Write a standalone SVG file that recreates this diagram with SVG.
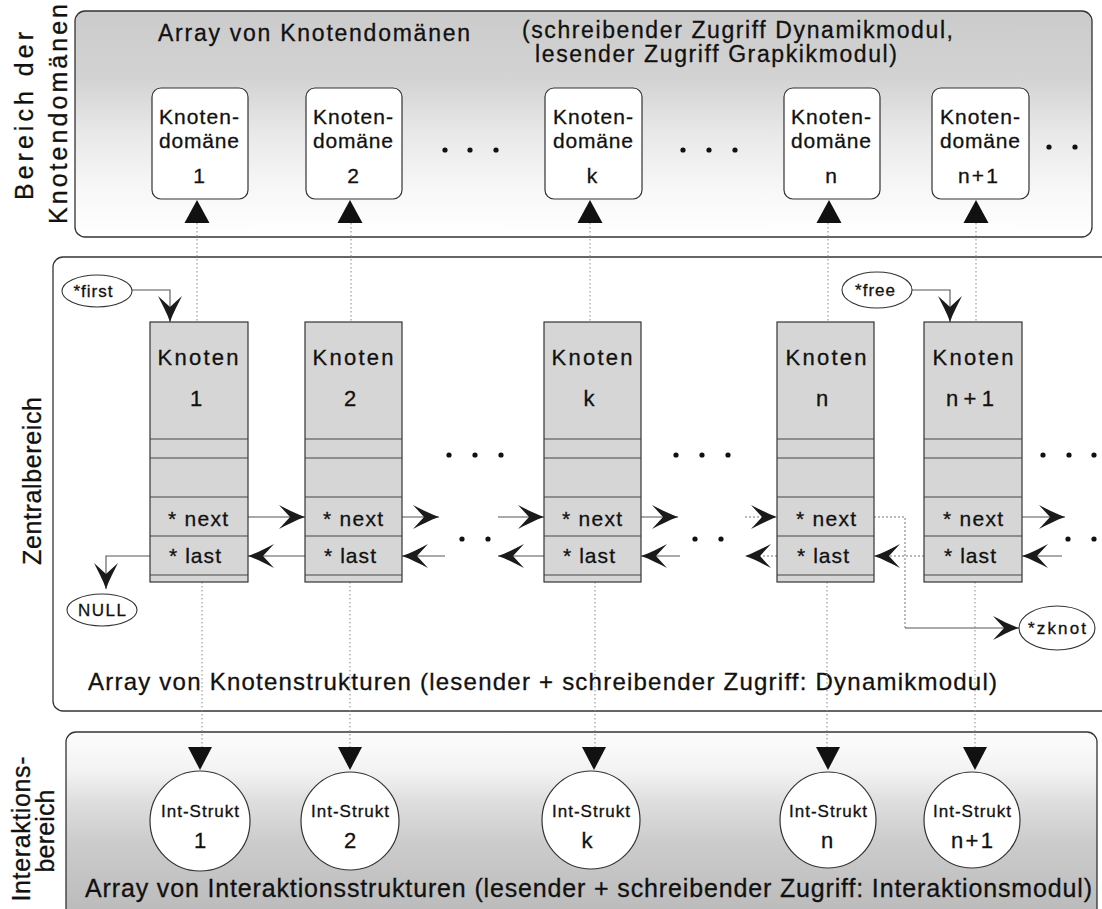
<svg xmlns="http://www.w3.org/2000/svg" width="1102" height="909" viewBox="0 0 1102 909">
  <style>
    text { font-family: "Liberation Sans", Arial, Helvetica, sans-serif; fill: #111; stroke: #111; stroke-width: 0.3; }
    .panel { stroke: #333; stroke-width: 1.3; }
    .dom { fill: #fff; stroke: #333; stroke-width: 1.2; }
    .knot { fill: #d6d6d6; stroke: #333; stroke-width: 1.2; }
    .row { stroke: #444; stroke-width: 1; }
    .ell { fill: #fff; stroke: #333; stroke-width: 1.1; }
    .circ { fill: #fff; stroke: #333; stroke-width: 1.2; }
    .link { fill: none; stroke: #555; stroke-width: 1.1; }
    .dlink { fill: none; stroke: #777; stroke-width: 1; stroke-dasharray: 2 2; }
    .guide { fill: none; stroke: #888; stroke-width: 1; stroke-dasharray: 1.5 2.5; }
    .tri { fill: #111; }
    .dot { fill: #111; }
    .lab { font-size: 25px; text-anchor: middle; }
    .title { font-size: 23px; }
    .dtxt { font-size: 21px; text-anchor: middle; }
    .ktxt { font-size: 22px; text-anchor: middle; }
    .ptr { font-size: 21px; text-anchor: middle; }
    .itxt { font-size: 17px; text-anchor: middle; }
    .inum { font-size: 22px; text-anchor: middle; }
    .etxt { font-size: 17px; text-anchor: middle; }
  </style>
  <defs>
    <linearGradient id="topFade" x1="0" y1="0" x2="0" y2="1">
      <stop offset="0" stop-color="#cbcbcb"/>
      <stop offset="0.3" stop-color="#d3d3d3"/>
      <stop offset="0.55" stop-color="#e9e9e9"/>
      <stop offset="0.8" stop-color="#f8f8f8"/>
      <stop offset="1" stop-color="#ffffff"/>
    </linearGradient>
    <linearGradient id="botFade" x1="0" y1="0" x2="0" y2="1">
      <stop offset="0" stop-color="#fdfdfd"/>
      <stop offset="0.2" stop-color="#f2f2f2"/>
      <stop offset="0.35" stop-color="#dedede"/>
      <stop offset="0.55" stop-color="#cccccc"/>
      <stop offset="1" stop-color="#b6b6b6"/>
    </linearGradient>
    <marker id="chev" viewBox="-27 -13 28 26" refX="0" refY="0" markerWidth="28" markerHeight="26" markerUnits="userSpaceOnUse" orient="auto">
      <path d="M0,0 C-9,-3 -18,-8 -26,-12 L-15,0 L-26,12 C-18,8 -9,3 0,0 Z" fill="#1a1a1a"/>
    </marker>
  </defs>

  <rect width="1102" height="909" fill="#fff"/>

  <!-- Area panels -->
  <g id="panels">
    <rect class="panel" x="75" y="11" width="1017" height="226" rx="10" fill="url(#topFade)"/>
    <rect class="panel" x="53" y="257" width="1080" height="454" rx="10" fill="#fff"/>
    <rect class="panel" x="66" y="732" width="1031" height="200" rx="10" fill="url(#botFade)"/>
  </g>

  <!-- Area labels -->
  <g id="labels">
    <text class="lab" transform="translate(33,116) rotate(-90)" textLength="168" lengthAdjust="spacing">Bereich der</text>
    <text class="lab" transform="translate(67,114) rotate(-90)" textLength="220" lengthAdjust="spacing">Knotendomänen</text>
    <text class="lab" transform="translate(41,481) rotate(-90)" textLength="168" lengthAdjust="spacing">Zentralbereich</text>
    <text class="lab" transform="translate(30,829) rotate(-90)" textLength="145" lengthAdjust="spacing">Interaktions-</text>
    <text class="lab" transform="translate(54,831) rotate(-90)" textLength="83" lengthAdjust="spacing">bereich</text>
    <text class="title" x="158" y="41" textLength="312" lengthAdjust="spacing">Array von Knotendomänen</text>
    <text class="title" x="522" y="38" textLength="431" lengthAdjust="spacing">(schreibender Zugriff Dynamikmodul,</text>
    <text class="title" x="535" y="62" textLength="362" lengthAdjust="spacing">lesender Zugriff Grapkikmodul)</text>
    <text x="88" y="690" font-size="24" textLength="909" lengthAdjust="spacing">Array von Knotenstrukturen (lesender + schreibender Zugriff: Dynamikmodul)</text>
    <text x="85" y="897" font-size="25" textLength="1007" lengthAdjust="spacing">Array von Interaktionsstrukturen (lesender + schreibender Zugriff: Interaktionsmodul)</text>
  </g>

  <!-- Ellipsis dots -->
  <g id="ellipses-dots">
    <circle class="dot" cx="445" cy="150" r="2.6"/><circle class="dot" cx="470" cy="150" r="2.6"/><circle class="dot" cx="496" cy="150" r="2.6"/>
    <circle class="dot" cx="683" cy="150" r="2.6"/><circle class="dot" cx="709" cy="150" r="2.6"/><circle class="dot" cx="735" cy="150" r="2.6"/>
    <circle class="dot" cx="1049" cy="147" r="2.6"/><circle class="dot" cx="1075" cy="147" r="2.6"/>
    <circle class="dot" cx="449" cy="455" r="2.6"/><circle class="dot" cx="475" cy="455" r="2.6"/><circle class="dot" cx="501" cy="455" r="2.6"/>
    <circle class="dot" cx="676" cy="455" r="2.6"/><circle class="dot" cx="702" cy="455" r="2.6"/><circle class="dot" cx="728" cy="455" r="2.6"/>
    <circle class="dot" cx="1043" cy="455" r="2.6"/><circle class="dot" cx="1069" cy="455" r="2.6"/><circle class="dot" cx="1094" cy="455" r="2.6"/>
    <circle class="dot" cx="462" cy="539" r="2.6"/><circle class="dot" cx="488" cy="539" r="2.6"/>
    <circle class="dot" cx="695" cy="539" r="2.6"/><circle class="dot" cx="721" cy="539" r="2.6"/>
    <circle class="dot" cx="1068" cy="539" r="2.6"/><circle class="dot" cx="1094" cy="539" r="2.6"/>
  </g>

  <!-- Connectors -->
  <g id="connectors">
    <path class="guide" d="M197,223 V322 M202,582 V747"/>
    <path class="guide" d="M351,223 V322 M350,582 V747"/>
    <path class="guide" d="M590,223 V322 M595,582 V747"/>
    <path class="guide" d="M828,223 V322 M827,582 V747"/>
    <path class="guide" d="M976,223 V322 M975,582 V747"/>
    <polygon class="tri" points="197,200 184.5,223 209.5,223"/>
    <polygon class="tri" points="350,200 337.5,223 362.5,223"/>
    <polygon class="tri" points="590,200 577.5,223 602.5,223"/>
    <polygon class="tri" points="829,200 816.5,223 841.5,223"/>
    <polygon class="tri" points="976,200 963.5,223 988.5,223"/>
    <polygon class="tri" points="200,770 188,747 212,747"/>
    <polygon class="tri" points="350,770 338,747 362,747"/>
    <polygon class="tri" points="594,770 582,747 606,747"/>
    <polygon class="tri" points="828,770 816,747 840,747"/>
    <polygon class="tri" points="975,770 963,747 987,747"/>
    <path class="link" d="M132,290 H170 V322" marker-end="url(#chev)"/>
    <path class="link" d="M912,290 H950 V322" marker-end="url(#chev)"/>
    <path class="link" d="M150,556 H106 V589" marker-end="url(#chev)"/>
    <path class="link" d="M248,517 H305" marker-end="url(#chev)"/>
    <path class="link" d="M305,556 H248" marker-end="url(#chev)"/>
    <path class="link" d="M402,517 H439" marker-end="url(#chev)"/>
    <path class="link" d="M498,517 H544" marker-end="url(#chev)"/>
    <path class="link" d="M544,556 H498" marker-end="url(#chev)"/>
    <path class="link" d="M445,556 H402" marker-end="url(#chev)"/>
    <path class="link" d="M641,517 H678" marker-end="url(#chev)"/>
    <path class="dlink" d="M745,517 H777" marker-end="url(#chev)"/>
    <path class="dlink" d="M777,556 H745" marker-end="url(#chev)"/>
    <path class="link" d="M680,556 H641" marker-end="url(#chev)"/>
    <path class="dlink" d="M924,556 H874" marker-end="url(#chev)"/>
    <path class="dlink" d="M874,517 H905 V628"/>
    <path class="link" d="M905,628 H1019" marker-end="url(#chev)"/>
    <path class="link" d="M1022,517 H1065" marker-end="url(#chev)"/>
    <path class="link" d="M1062,556 H1022" marker-end="url(#chev)"/>
  </g>

  <!-- Node domains -->
  <g id="domain-1">
    <rect class="dom" x="152" y="88" width="96" height="111" rx="9"/>
    <text class="dtxt" x="199" y="124" textLength="80" lengthAdjust="spacing">Knoten-</text>
    <text class="dtxt" x="199" y="148" textLength="80" lengthAdjust="spacing">domäne</text>
    <text class="dtxt" x="199" y="183">1</text>
  </g>
  <g id="domain-2">
    <rect class="dom" x="306" y="88" width="96" height="111" rx="9"/>
    <text class="dtxt" x="353" y="124" textLength="80" lengthAdjust="spacing">Knoten-</text>
    <text class="dtxt" x="353" y="148" textLength="80" lengthAdjust="spacing">domäne</text>
    <text class="dtxt" x="353" y="183">2</text>
  </g>
  <g id="domain-k">
    <rect class="dom" x="545" y="88" width="97" height="111" rx="9"/>
    <text class="dtxt" x="593" y="124" textLength="80" lengthAdjust="spacing">Knoten-</text>
    <text class="dtxt" x="593" y="148" textLength="80" lengthAdjust="spacing">domäne</text>
    <text class="dtxt" x="592" y="183">k</text>
  </g>
  <g id="domain-n">
    <rect class="dom" x="784" y="88" width="96" height="111" rx="9"/>
    <text class="dtxt" x="831" y="124" textLength="80" lengthAdjust="spacing">Knoten-</text>
    <text class="dtxt" x="831" y="148" textLength="80" lengthAdjust="spacing">domäne</text>
    <text class="dtxt" x="831" y="183">n</text>
  </g>
  <g id="domain-n1">
    <rect class="dom" x="932" y="88" width="97" height="111" rx="9"/>
    <text class="dtxt" x="980" y="124" textLength="80" lengthAdjust="spacing">Knoten-</text>
    <text class="dtxt" x="980" y="148" textLength="80" lengthAdjust="spacing">domäne</text>
    <text class="dtxt" x="978" y="183" textLength="40" lengthAdjust="spacing">n+1</text>
  </g>

  <!-- Node structures -->
  <g id="knoten-1">
    <rect class="knot" x="150" y="322" width="98" height="260"/>
    <path class="row" d="M150,439 H248 M150,458 H248 M150,497 H248 M150,536 H248 M150,575 H248"/>
    <text class="ktxt" x="198" y="365" textLength="81" lengthAdjust="spacing">Knoten</text>
    <text class="ktxt" x="196" y="406">1</text>
    <text class="ptr" x="198" y="526" textLength="60" lengthAdjust="spacing">* next</text>
    <text class="ptr" x="195" y="563" textLength="52" lengthAdjust="spacing">* last</text>
  </g>
  <g id="knoten-2">
    <rect class="knot" x="305" y="322" width="97" height="260"/>
    <path class="row" d="M305,439 H402 M305,458 H402 M305,497 H402 M305,536 H402 M305,575 H402"/>
    <text class="ktxt" x="353" y="365" textLength="81" lengthAdjust="spacing">Knoten</text>
    <text class="ktxt" x="350" y="406">2</text>
    <text class="ptr" x="353" y="526" textLength="60" lengthAdjust="spacing">* next</text>
    <text class="ptr" x="350" y="563" textLength="52" lengthAdjust="spacing">* last</text>
  </g>
  <g id="knoten-k">
    <rect class="knot" x="544" y="322" width="97" height="260"/>
    <path class="row" d="M544,439 H641 M544,458 H641 M544,497 H641 M544,536 H641 M544,575 H641"/>
    <text class="ktxt" x="592" y="365" textLength="81" lengthAdjust="spacing">Knoten</text>
    <text class="ktxt" x="589" y="406">k</text>
    <text class="ptr" x="592" y="526" textLength="60" lengthAdjust="spacing">* next</text>
    <text class="ptr" x="589" y="563" textLength="52" lengthAdjust="spacing">* last</text>
  </g>
  <g id="knoten-n">
    <rect class="knot" x="777" y="322" width="97" height="260"/>
    <path class="row" d="M777,439 H874 M777,458 H874 M777,497 H874 M777,536 H874 M777,575 H874"/>
    <text class="ktxt" x="826" y="365" textLength="81" lengthAdjust="spacing">Knoten</text>
    <text class="ktxt" x="822" y="406">n</text>
    <text class="ptr" x="826" y="526" textLength="60" lengthAdjust="spacing">* next</text>
    <text class="ptr" x="823" y="563" textLength="52" lengthAdjust="spacing">* last</text>
  </g>
  <g id="knoten-n1">
    <rect class="knot" x="924" y="322" width="98" height="260"/>
    <path class="row" d="M924,439 H1022 M924,458 H1022 M924,497 H1022 M924,536 H1022 M924,575 H1022"/>
    <text class="ktxt" x="973" y="365" textLength="81" lengthAdjust="spacing">Knoten</text>
    <text class="ktxt" x="970" y="406" textLength="48" lengthAdjust="spacing">n+1</text>
    <text class="ptr" x="973" y="526" textLength="60" lengthAdjust="spacing">* next</text>
    <text class="ptr" x="970" y="563" textLength="52" lengthAdjust="spacing">* last</text>
  </g>

  <!-- Pointer variables -->
  <g id="ptr-first">
    <ellipse class="ell" cx="97" cy="291" rx="35" ry="16"/>
    <text class="etxt" x="93" y="297" textLength="39" lengthAdjust="spacing">*first</text>
  </g>
  <g id="ptr-null">
    <ellipse class="ell" cx="102" cy="610" rx="35" ry="16"/>
    <text class="etxt" x="102" y="616" textLength="48" lengthAdjust="spacing">NULL</text>
  </g>
  <g id="ptr-free">
    <ellipse class="ell" cx="877" cy="290" rx="35" ry="18"/>
    <text class="etxt" x="875" y="296" textLength="40" lengthAdjust="spacing">*free</text>
  </g>
  <g id="ptr-zknot">
    <ellipse class="ell" cx="1057" cy="628" rx="38" ry="22"/>
    <text class="etxt" x="1057" y="634" font-size="18" textLength="58" lengthAdjust="spacing">*zknot</text>
  </g>

  <!-- Interaction structures -->
  <g id="int-1">
    <circle class="circ" cx="200" cy="821" r="50"/>
    <text class="itxt" x="200" y="817" textLength="78" lengthAdjust="spacing">Int-Strukt</text>
    <text class="inum" x="200" y="848">1</text>
  </g>
  <g id="int-2">
    <circle class="circ" cx="350" cy="821" r="49"/>
    <text class="itxt" x="350" y="817" textLength="78" lengthAdjust="spacing">Int-Strukt</text>
    <text class="inum" x="350" y="848">2</text>
  </g>
  <g id="int-k">
    <circle class="circ" cx="591" cy="820" r="49"/>
    <text class="itxt" x="591" y="817" textLength="78" lengthAdjust="spacing">Int-Strukt</text>
    <text class="inum" x="587" y="848">k</text>
  </g>
  <g id="int-n">
    <circle class="circ" cx="828" cy="820" r="48"/>
    <text class="itxt" x="828" y="817" textLength="78" lengthAdjust="spacing">Int-Strukt</text>
    <text class="inum" x="827" y="848">n</text>
  </g>
  <g id="int-n1">
    <circle class="circ" cx="972" cy="820" r="48"/>
    <text class="itxt" x="972" y="817" textLength="78" lengthAdjust="spacing">Int-Strukt</text>
    <text class="inum" x="972" y="848" textLength="42" lengthAdjust="spacing">n+1</text>
  </g>
</svg>
